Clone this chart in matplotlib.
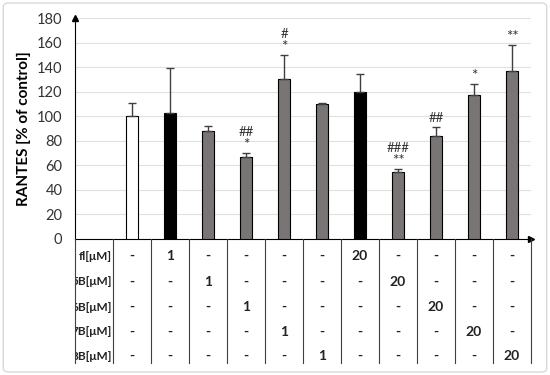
import matplotlib
matplotlib.use("Agg")
import matplotlib.pyplot as plt
from matplotlib.patches import FancyBboxPatch, Rectangle

plt.rcParams['font.family'] = ['Lato', 'DejaVu Sans']

# Data
groups = ["control", "fl 1", "5B 1", "6B 1", "7B 1", "8B 1",
          "fl 20", "5B 20", "6B 20", "7B 20", "8B 20"]
values = [100, 103, 88, 67, 130, 110, 120, 54.5, 84, 117, 137]
errors = [11, 36, 4, 3, 20, 0.5, 14, 2.5, 7, 9, 21]
kinds = ["control", "fl", "B", "B", "B", "B", "fl", "B", "B", "B", "B"]
stars = ["", "", "", "*", "*", "", "", "**", "", "*", "**"]
hashes = ["", "", "", "##", "#", "", "", "###", "##", "", ""]
row_labels = ["fl[\u03bcM]", "5B[\u03bcM]", "6B[\u03bcM]", "7B[\u03bcM]", "8B[\u03bcM]"]
table = [
    ["-", "1", "-", "-", "-", "-", "20", "-", "-", "-", "-"],
    ["-", "-", "1", "-", "-", "-", "-", "20", "-", "-", "-"],
    ["-", "-", "-", "1", "-", "-", "-", "-", "20", "-", "-"],
    ["-", "-", "-", "-", "1", "-", "-", "-", "-", "20", "-"],
    ["-", "-", "-", "-", "-", "1", "-", "-", "-", "-", "20"],
]
yticks = [0, 20, 40, 60, 80, 100, 120, 140, 160, 180]

colors = {"control": "white", "fl": "black", "B": "#7a7575"}

fig = plt.figure(figsize=(5.5, 3.75), dpi=100)
fig.patches.append(FancyBboxPatch((0.006, 0.008), 0.988, 0.984, boxstyle="round,pad=0,rounding_size=0.01",
                                  transform=fig.transFigure, fill=False, edgecolor="#d9d9d9", linewidth=1))
ax = fig.add_axes([75/550, 1-239/375, 456/550, 221/375])

xs = list(range(1, len(values)+1))
for x, v, e, k in zip(xs, values, errors, kinds):
    ax.bar(x, v, width=0.3, color=colors[k], edgecolor="black", linewidth=0.8, zorder=3)
    ax.errorbar(x, v, yerr=[[0], [e]], fmt="none", ecolor="#404040", elinewidth=1, capsize=3, capthick=1, zorder=4)

for x, v, e, s, h in zip(xs, values, errors, stars, hashes):
    top = v + e
    if s:
        ax.text(x, top + 1, s, ha="center", va="bottom", fontsize=11, color="#333333")
    if h:
        ax.text(x, top + (12 if s else 3), h, ha="center", va="bottom", fontsize=9.5, color="#333333")

ax.set_xlim(-0.5, 11.5)
ax.set_ylim(0, 180)
ax.set_yticks(yticks)
ax.set_yticklabels([str(t) for t in yticks], fontsize=10.5, color="#333333")
ax.set_xticks([])
ax.tick_params(axis="y", length=0, pad=9)
for t in yticks[1:]:
    ax.axhline(t, color="#e0e0e0", linewidth=0.8, zorder=0)
for sp in ["top", "right"]:
    ax.spines[sp].set_visible(False)
ax.spines["left"].set_color("black")
ax.spines["bottom"].set_color("black")
ax.plot([-0.5], [180], marker="^", color="black", markersize=5, clip_on=False, zorder=5)
ax.plot([11.5], [0], marker=">", color="black", markersize=5, clip_on=False, zorder=5)
ax.set_ylabel("RANTES [% of control]", fontsize=11, fontweight="bold")
ax.yaxis.set_label_coords(-0.0965, 0.5)

# table
bottom = -101
for i in range(13):
    xv = -0.5 + i
    ax.plot([xv, xv], [0, bottom], color="#404040", linewidth=0.8, clip_on=False, zorder=6)
row_y = [-14, -35, -55.5, -75.5, -95.5]
for r, (lab, row) in enumerate(zip(row_labels, table)):
    t = ax.text(0.48, row_y[r], lab, ha="right", va="center", fontsize=8.5, fontweight="bold",
                color="#222222", clip_on=True)
    clip_rect = Rectangle((-0.5, -110), 1.0, 110, transform=ax.transData)
    t.set_clip_path(clip_rect)
    for x, cell in zip(xs, row):
        ax.text(x, row_y[r], cell, ha="center", va="center", fontsize=10, fontweight="bold", color="#222222")

fig.savefig("out.png", dpi=100)
